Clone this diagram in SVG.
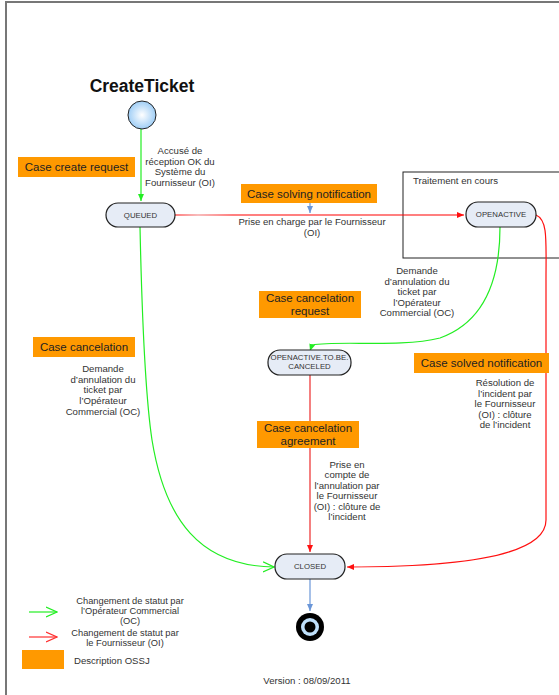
<svg xmlns="http://www.w3.org/2000/svg" width="559" height="695" viewBox="0 0 559 695">
<style>
.t{font-family:"Liberation Sans",Arial,sans-serif;font-size:9.6px;fill:#333;text-anchor:middle}
.l{font-family:"Liberation Sans",Arial,sans-serif;font-size:9.3px;fill:#333;text-anchor:middle}
.o{font-family:"Liberation Sans",Arial,sans-serif;font-size:11.5px;fill:#222;text-anchor:middle}
.n{font-family:"Liberation Sans",Arial,sans-serif;font-size:7.8px;fill:#333;text-anchor:middle}
.node{fill:#e6ecf6;stroke:#222;stroke-width:1.2}
.box{fill:#ff9900}
.g{fill:none;stroke:#22ee22;stroke-width:1.2}
.r{fill:none;stroke:#ff1010;stroke-width:1.2}
</style>
<defs>
<radialGradient id="sg" cx="0.5" cy="0.5" r="0.6">
<stop offset="0" stop-color="#ffffff"/>
<stop offset="1" stop-color="#8cc4f4"/>
</radialGradient>
<linearGradient id="rg" gradientUnits="userSpaceOnUse" x1="175" y1="0" x2="464" y2="0">
<stop offset="0" stop-color="#ff0000"/>
<stop offset="0.08" stop-color="#f07a7a"/>
<stop offset="0.2" stop-color="#ff0000"/>
<stop offset="1" stop-color="#ff0000"/>
</linearGradient>
<marker id="ag" markerWidth="8" markerHeight="8" refX="7" refY="4" orient="auto" markerUnits="userSpaceOnUse">
<path d="M0,1 L7,4 L0,7 Z" fill="#22ee22"/>
</marker>
<marker id="agv" markerWidth="12" markerHeight="12" refX="11" refY="6" orient="auto" markerUnits="userSpaceOnUse">
<path d="M0,1 L11,6 L0,11" fill="none" stroke="#22ee22" stroke-width="1.2"/>
</marker>
<marker id="ar" markerWidth="8" markerHeight="8" refX="7" refY="4" orient="auto" markerUnits="userSpaceOnUse">
<path d="M0,1 L7,4 L0,7 Z" fill="#ff1010"/>
</marker>
<marker id="arv" markerWidth="12" markerHeight="12" refX="11" refY="6" orient="auto" markerUnits="userSpaceOnUse">
<path d="M0,1 L11,6 L0,11" fill="none" stroke="#ff3030" stroke-width="1.2"/>
</marker>
<marker id="ab" markerWidth="8" markerHeight="8" refX="7" refY="4" orient="auto" markerUnits="userSpaceOnUse">
<path d="M0,1 L7,4 L0,7 Z" fill="#6a96d8"/>
</marker>
</defs>
<rect x="0" y="0" width="559" height="695" fill="#fff"/>
<path d="M6,695 V2 H559" fill="none" stroke="#777" stroke-width="2"/>

<g id="traitement">
<rect x="403" y="172" width="160" height="86" fill="none" stroke="#222" stroke-width="1"/>
<text x="413" y="184" class="t" style="text-anchor:start">Traitement en cours</text>
</g>

<g id="connectors">
<path class="g" d="M141,129 V201" marker-end="url(#ag)"/>
<path d="M175,215 H464" fill="none" stroke="url(#rg)" stroke-width="1.2" marker-end="url(#ar)"/>
<path d="M310,203 V213" fill="none" stroke="#6a96d8" stroke-width="1.2" marker-end="url(#ab)"/>
<path class="g" d="M500,227 C500,270 490,320 440,338 C400,348 340,340 312,345 L310,351" marker-end="url(#ag)"/>
<path d="M310,375 V552" fill="none" stroke="#f26060" stroke-width="1.6" marker-end="url(#ar)"/>
<path class="r" d="M536,215 C548,220 546,240 546,280 L546,520 C546,560 440,567 347,567" marker-end="url(#ar)"/>
<path class="g" d="M140,227 C142,320 146,400 152,440 C165,520 200,566 274,567" marker-end="url(#agv)"/>
<path d="M310,579 V611" fill="none" stroke="#6a96d8" stroke-width="1.2" marker-end="url(#ab)"/>
</g>

<g id="title"><text x="142" y="92" style="font-family:'Liberation Sans',Arial,sans-serif;font-size:17.5px;font-weight:bold;fill:#111;text-anchor:middle">CreateTicket</text></g>

<g id="start"><circle cx="142" cy="115" r="14" fill="url(#sg)" stroke="#222" stroke-width="1"/></g>

<g id="queued">
<rect class="node" x="106" y="203" width="69" height="24" rx="12"/>
<text x="140.5" y="218" class="n">QUEUED</text>
</g>

<g id="openactive">
<rect class="node" x="466" y="202" width="70" height="25" rx="12"/>
<text x="501" y="217" class="n">OPENACTIVE</text>
</g>

<g id="tobecanceled">
<rect class="node" x="268" y="350" width="83" height="25" rx="12"/>
<text x="309.5" y="360" class="n">OPENACTIVE.TO.BE.</text>
<text x="309.5" y="369" class="n">CANCELED</text>
</g>

<g id="closed">
<rect class="node" x="275" y="554" width="70" height="25" rx="12"/>
<text x="310" y="569" class="n">CLOSED</text>
</g>

<g id="end">
<circle cx="310" cy="627" r="14" fill="#000"/>
<circle cx="310" cy="627" r="9" fill="#bfe0fb"/>
<circle cx="310" cy="627" r="5.5" fill="#000"/>
</g>

<g id="labels">
<rect class="box" x="18" y="157" width="117" height="20"/>
<text x="76.5" y="171" class="o">Case create request</text>
<text x="180" y="154" class="t">Accusé de</text>
<text x="180" y="165" class="t">réception OK du</text>
<text x="180" y="175" class="t">Système du</text>
<text x="180" y="186" class="t">Fournisseur (OI)</text>

<rect class="box" x="241" y="184" width="136" height="19"/>
<text x="309" y="198" class="o">Case solving notification</text>
<text x="312" y="225" class="t">Prise en charge par le Fournisseur</text>
<text x="312" y="236" class="t">(OI)</text>

<text x="417" y="274" class="t">Demande</text>
<text x="417" y="285" class="t">d’annulation du</text>
<text x="417" y="295" class="t">ticket par</text>
<text x="417" y="306" class="t">l’Opérateur</text>
<text x="417" y="316" class="t">Commercial (OC)</text>

<rect class="box" x="259" y="291" width="102" height="27"/>
<text x="310" y="302" class="o">Case cancelation</text>
<text x="310" y="315" class="o">request</text>

<rect class="box" x="33" y="337" width="102" height="20"/>
<text x="84" y="351" class="o">Case cancelation</text>
<text x="103" y="372" class="t">Demande</text>
<text x="103" y="383" class="t">d’annulation du</text>
<text x="103" y="393" class="t">ticket par</text>
<text x="103" y="404" class="t">l’Opérateur</text>
<text x="103" y="415" class="t">Commercial (OC)</text>

<rect class="box" x="414" y="353" width="135" height="20"/>
<text x="481.5" y="367" class="o">Case solved notification</text>
<text x="505" y="386" class="t">Résolution de</text>
<text x="505" y="397" class="t">l’incident par</text>
<text x="505" y="407" class="t">le Fournisseur</text>
<text x="505" y="418" class="t">(OI) : clôture</text>
<text x="505" y="428" class="t">de l’incident</text>

<rect class="box" x="257" y="421" width="102" height="27"/>
<text x="308" y="432" class="o">Case cancelation</text>
<text x="308" y="445" class="o">agreement</text>
<text x="347" y="468" class="t">Prise en</text>
<text x="347" y="478" class="t">compte de</text>
<text x="347" y="489" class="t">l’annulation par</text>
<text x="347" y="499" class="t">le Fournisseur</text>
<text x="347" y="510" class="t">(OI) : clôture de</text>
<text x="347" y="520" class="t">l’incident</text>
</g>

<g id="legend">
<path d="M29,612 H57" fill="none" stroke="#22ee22" stroke-width="1.2" marker-end="url(#agv)"/>
<text x="130" y="604" class="l">Changement de statut par</text>
<text x="130" y="614" class="l">l’Opérateur Commercial</text>
<text x="130" y="624" class="l">(OC)</text>
<path d="M29,637 H57" fill="none" stroke="#ff3030" stroke-width="1.2" marker-end="url(#arv)"/>
<text x="125" y="635.5" class="l">Changement de statut par</text>
<text x="125" y="646" class="l">le Fournisseur (OI)</text>
<rect class="box" x="22" y="650" width="42" height="19"/>
<text x="74" y="664" class="t" style="text-anchor:start">Description OSSJ</text>
<text x="307" y="684" class="t">Version : 08/09/2011</text>
</g>
</svg>
